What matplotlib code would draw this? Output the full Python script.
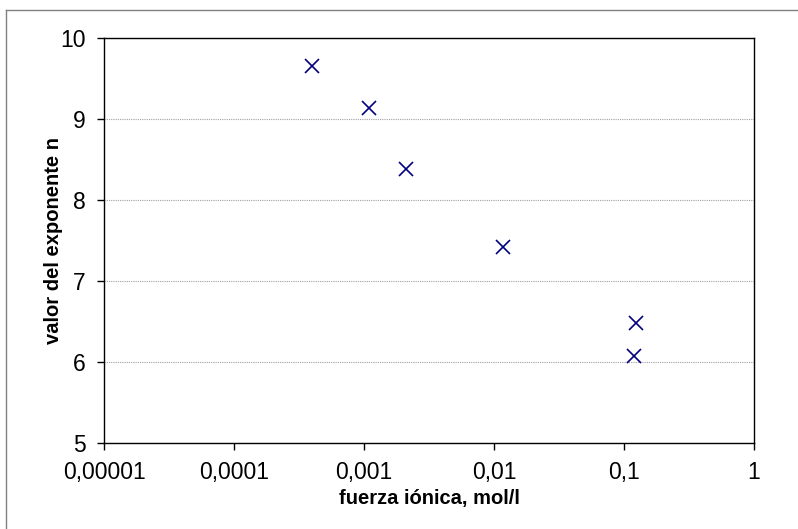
import matplotlib
matplotlib.use('Agg')
import matplotlib.pyplot as plt
from matplotlib.lines import Line2D

# datos
fuerza_ionica = [0.0004, 0.0011, 0.0021, 0.0118, 0.123, 0.120]
exponente_n = [9.65, 9.14, 8.38, 7.42, 6.48, 6.08]

x_ticks = [0.00001, 0.0001, 0.001, 0.01, 0.1, 1]
x_tick_labels = ['0,00001', '0,0001', '0,001', '0,01', '0,1', '1']
y_ticks = [5, 6, 7, 8, 9, 10]

plt.rcParams['font.family'] = ['Liberation Sans', 'DejaVu Sans']

fig = plt.figure(figsize=(7.98, 5.29), dpi=100)
ax = fig.add_axes([104 / 798, 1 - 443 / 529, 650 / 798, 405 / 529])

ax.plot(fuerza_ionica, exponente_n, linestyle='none', marker='x',
        color='#000080', markersize=10, markeredgewidth=1.2, clip_on=False, zorder=3)

ax.set_xscale('log')
ax.set_xlim(x_ticks[0], x_ticks[-1])
ax.set_ylim(y_ticks[0], y_ticks[-1])
ax.set_xticks(x_ticks)
ax.set_xticklabels(x_tick_labels)
ax.minorticks_off()
ax.set_yticks(y_ticks)

ax.yaxis.grid(True, color='#a0a0a0', linestyle=(0, (1, 1)), linewidth=0.8)
ax.set_axisbelow(True)

ax.tick_params(axis='both', direction='out', length=5, width=1, color='black',
               labelsize=16.5, pad=8)
for s in ax.spines.values():
    s.set_color('black')
    s.set_linewidth(1)

ax.set_xlabel('fuerza iónica, mol/l', fontsize=14.5, fontweight='bold')
ax.set_ylabel('valor del exponente n', fontsize=14.5, fontweight='bold')
ax.xaxis.set_label_coords(0.5, -0.113)
ax.yaxis.set_label_coords(-0.063, 0.5)

# marco exterior del gráfico
fig.add_artist(Line2D([6 / 798, 6 / 798], [0, 1 - 10 / 529], transform=fig.transFigure,
                      color='#808080', linewidth=1))
fig.add_artist(Line2D([6 / 798, 1], [1 - 10 / 529, 1 - 10 / 529], transform=fig.transFigure,
                      color='#808080', linewidth=1))

fig.savefig('out.png', dpi=100)
